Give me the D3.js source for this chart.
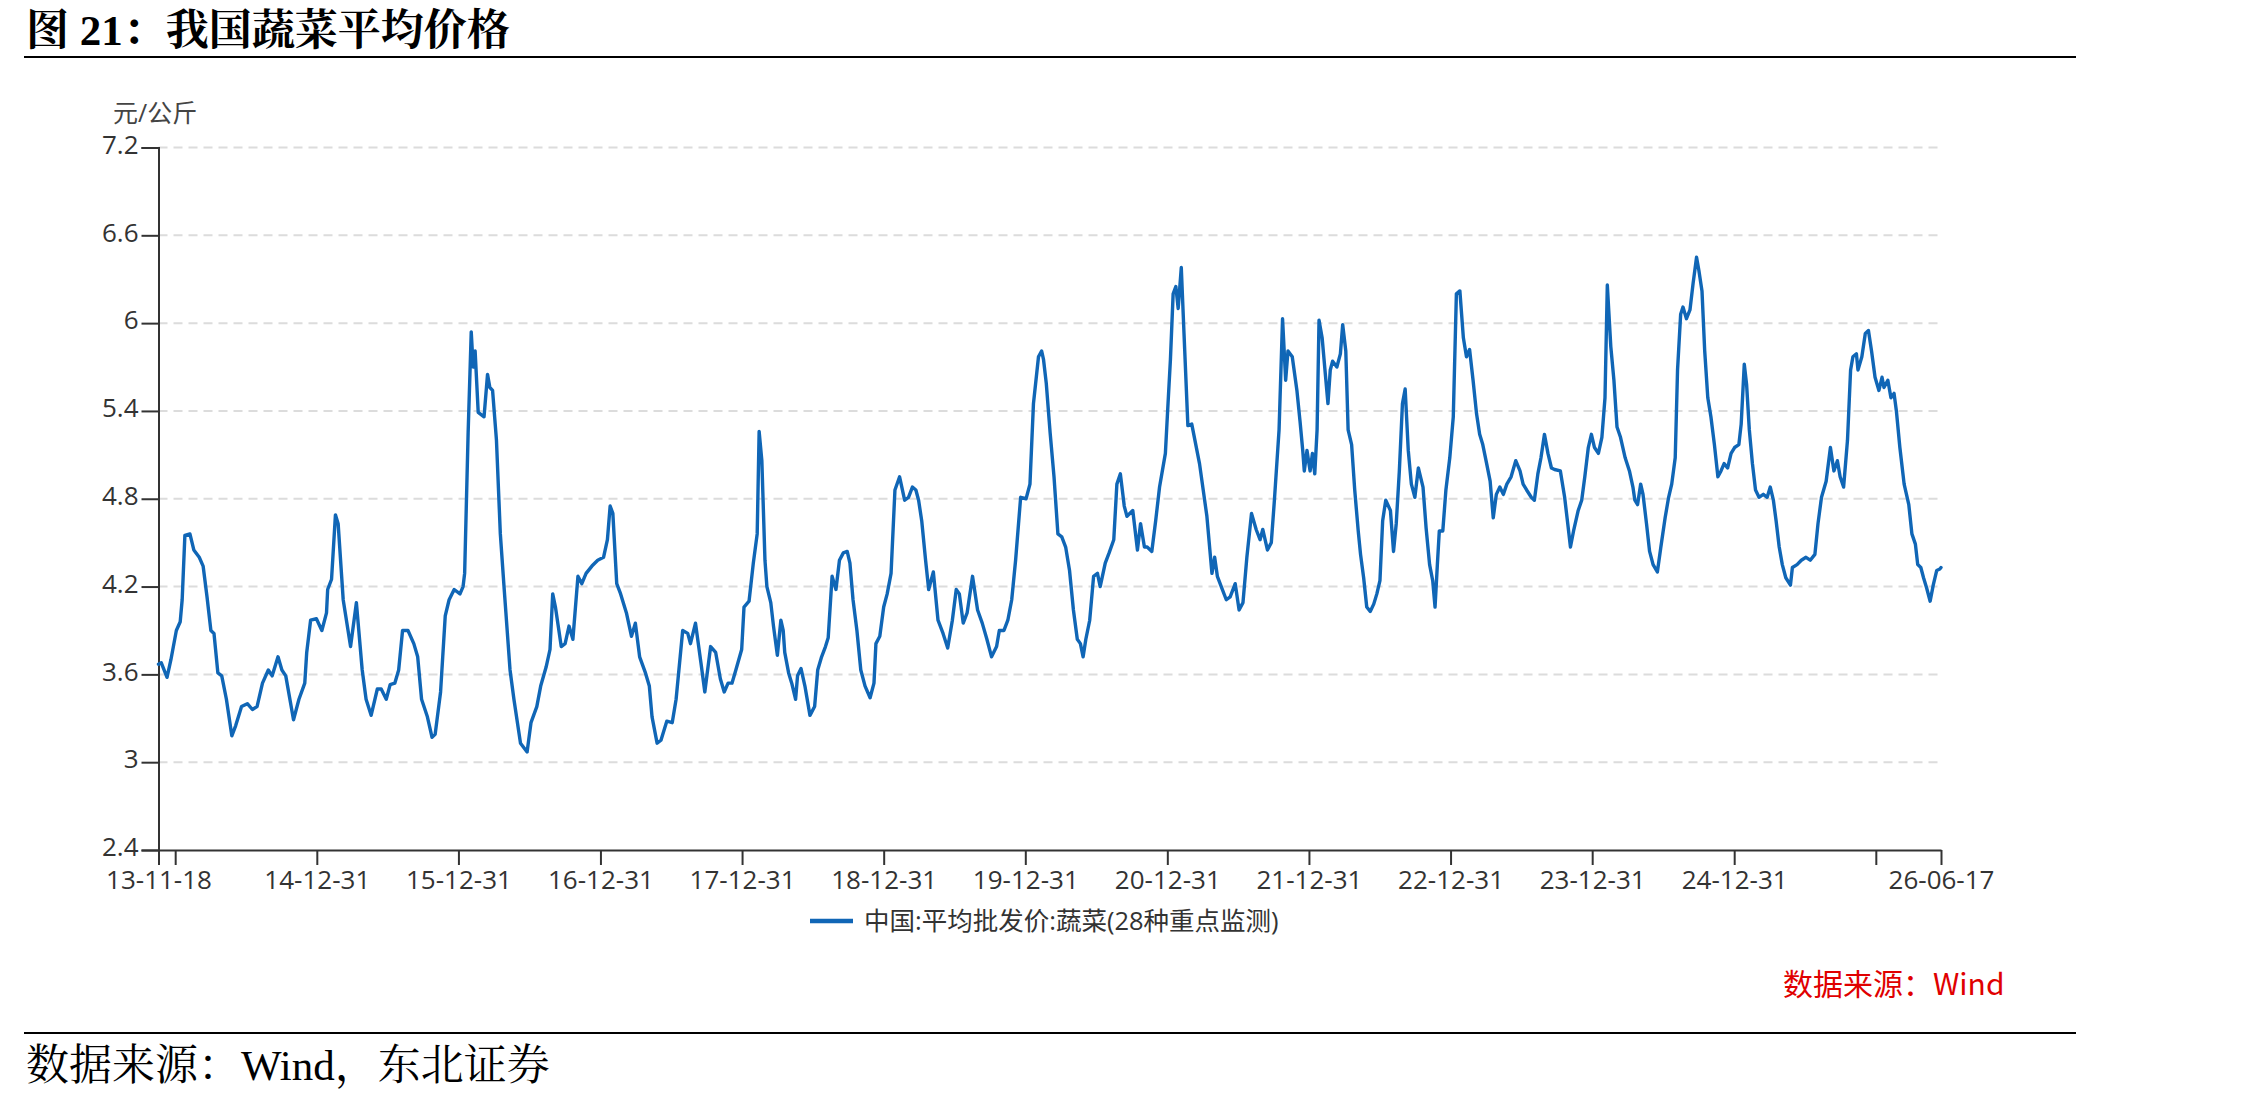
<!DOCTYPE html>
<html>
<head>
<meta charset="utf-8">
<script src="https://cdn.jsdelivr.net/npm/d3@7"></script>
<style>
  html, body { margin: 0; padding: 0; background: #ffffff; }
  svg { display: block; }
</style>
</head>
<body>
<svg id="chart" width="2268" height="1098"></svg>
<script>
// ---------------- DATA ----------------
const seriesName = "中国:平均批发价:蔬菜(28种重点监测)";
const unitLabel = "元/公斤";
const titleText = "图 21：我国蔬菜平均价格";
const footerText = "数据来源：Wind，东北证券";
const sourceText = "数据来源：Wind";

const dates = [
"2013-11-18","2013-11-25","2013-12-10","2013-12-20","2014-01-03","2014-01-13","2014-01-18","2014-01-25","2014-02-07","2014-02-17",
"2014-03-03","2014-03-13","2014-03-23","2014-04-02","2014-04-10","2014-04-20","2014-04-30","2014-05-12","2014-05-26","2014-06-05",
"2014-06-20","2014-07-05","2014-07-18","2014-07-30","2014-08-13","2014-08-28","2014-09-07","2014-09-22","2014-10-02","2014-10-12",
"2014-11-01","2014-11-15","2014-11-30","2014-12-05","2014-12-15","2014-12-30","2015-01-13","2015-01-25","2015-01-28","2015-02-07",
"2015-02-17","2015-02-24","2015-03-09","2015-03-28","2015-04-12","2015-04-27","2015-05-07","2015-05-20","2015-06-05","2015-06-15",
"2015-06-28","2015-07-08","2015-07-20","2015-07-30","2015-08-09","2015-08-23","2015-09-07","2015-09-17","2015-09-27","2015-10-12",
"2015-10-24","2015-11-01","2015-11-15","2015-11-27","2015-12-07","2015-12-20","2016-01-04","2016-01-12","2016-01-16","2016-01-25",
"2016-02-02","2016-02-07","2016-02-12","2016-02-20","2016-03-06","2016-03-15","2016-03-21","2016-03-28","2016-04-07","2016-04-17",
"2016-04-27","2016-05-12","2016-05-22","2016-06-08","2016-06-25","2016-07-05","2016-07-20","2016-07-30","2016-08-13","2016-08-23",
"2016-08-30","2016-09-06","2016-09-21","2016-10-01","2016-10-11","2016-10-21","2016-11-03","2016-11-13","2016-11-24","2016-12-09",
"2016-12-24","2017-01-08","2017-01-18","2017-01-25","2017-02-01","2017-02-11","2017-02-21","2017-03-08","2017-03-21","2017-03-31",
"2017-04-11","2017-04-26","2017-05-06","2017-05-13","2017-05-26","2017-06-05","2017-06-20","2017-07-04","2017-07-14","2017-07-31",
"2017-08-13","2017-08-20","2017-09-02","2017-09-16","2017-09-26","2017-10-11","2017-10-24","2017-11-05","2017-11-15","2017-11-25",
"2017-12-05","2017-12-15","2017-12-30","2018-01-05","2018-01-18","2018-01-29","2018-02-08","2018-02-13","2018-02-20","2018-02-28",
"2018-03-05","2018-03-15","2018-03-22","2018-04-01","2018-04-10","2018-04-16","2018-04-20","2018-04-30","2018-05-08","2018-05-18",
"2018-05-23","2018-06-01","2018-06-11","2018-06-24","2018-07-06","2018-07-14","2018-07-24","2018-08-03","2018-08-10","2018-08-20",
"2018-08-30","2018-09-08","2018-09-18","2018-09-28","2018-10-05","2018-10-13","2018-10-23","2018-11-02","2018-11-13","2018-11-26",
"2018-12-06","2018-12-11","2018-12-21","2018-12-31","2019-01-09","2019-01-19","2019-01-29","2019-02-10","2019-02-23","2019-03-05",
"2019-03-15","2019-03-24","2019-03-31","2019-04-08","2019-04-18","2019-04-26","2019-05-08","2019-05-20","2019-06-02","2019-06-14",
"2019-06-26","2019-07-06","2019-07-14","2019-07-24","2019-08-03","2019-08-17","2019-08-30","2019-09-11","2019-09-23","2019-10-05",
"2019-10-18","2019-10-25","2019-11-06","2019-11-16","2019-11-26","2019-12-06","2019-12-19","2020-01-02","2020-01-12","2020-01-21",
"2020-02-03","2020-02-11","2020-02-16","2020-02-23","2020-03-04","2020-03-14","2020-03-24","2020-04-03","2020-04-13","2020-04-23",
"2020-05-03","2020-05-13","2020-05-21","2020-05-28","2020-06-04","2020-06-14","2020-06-24","2020-07-04","2020-07-11","2020-07-24",
"2020-08-03","2020-08-15","2020-08-23","2020-09-01","2020-09-11","2020-09-18","2020-10-03","2020-10-15","2020-10-23","2020-11-02",
"2020-11-09","2020-11-21","2020-12-01","2020-12-11","2020-12-26","2021-01-01","2021-01-08","2021-01-15","2021-01-22","2021-01-28",
"2021-02-05","2021-02-12","2021-02-22","2021-03-04","2021-03-24","2021-04-12","2021-04-25","2021-05-02","2021-05-09","2021-05-19",
"2021-06-01","2021-06-11","2021-06-24","2021-07-04","2021-07-14","2021-07-24","2021-08-05","2021-08-17","2021-08-27","2021-09-03",
"2021-09-15","2021-09-25","2021-10-03","2021-10-15","2021-10-24","2021-11-01","2021-11-07","2021-11-18","2021-11-30","2021-12-08",
"2021-12-15","2021-12-19","2021-12-26","2022-01-03","2022-01-09","2022-01-15","2022-01-21","2022-01-26","2022-02-03","2022-02-12",
"2022-02-18","2022-02-24","2022-03-02","2022-03-13","2022-03-22","2022-03-28","2022-04-05","2022-04-11","2022-04-20","2022-04-28",
"2022-05-07","2022-05-13","2022-05-21","2022-05-29","2022-06-07","2022-06-16","2022-06-24","2022-07-02","2022-07-09","2022-07-17",
"2022-07-29","2022-08-06","2022-08-13","2022-08-21","2022-08-29","2022-09-05","2022-09-13","2022-09-21","2022-09-30","2022-10-09",
"2022-10-21","2022-10-29","2022-11-07","2022-11-15","2022-11-21","2022-11-27","2022-12-02","2022-12-11","2022-12-19","2022-12-29",
"2023-01-07","2023-01-15","2023-01-24","2023-02-02","2023-02-10","2023-02-18","2023-02-27","2023-03-08","2023-03-16","2023-03-24",
"2023-04-03","2023-04-12","2023-04-20","2023-04-28","2023-05-07","2023-05-16","2023-05-25","2023-06-05","2023-06-17","2023-06-28",
"2023-07-06","2023-07-15","2023-07-27","2023-08-04","2023-08-13","2023-08-21","2023-08-30","2023-09-08","2023-09-17","2023-09-25",
"2023-10-10","2023-10-21","2023-10-29","2023-11-05","2023-11-13","2023-11-25","2023-12-04","2023-12-12","2023-12-21","2023-12-29",
"2024-01-06","2024-01-16","2024-01-25","2024-02-02","2024-02-08","2024-02-17","2024-02-25","2024-03-04","2024-03-13","2024-03-25",
"2024-04-05","2024-04-14","2024-04-19","2024-04-26","2024-05-04","2024-05-10","2024-05-19","2024-05-27","2024-06-05","2024-06-16",
"2024-06-25","2024-07-06","2024-07-15","2024-07-23","2024-08-01","2024-08-07","2024-08-15","2024-08-21","2024-08-30","2024-09-08",
"2024-09-16","2024-09-25","2024-10-01","2024-10-09","2024-10-16","2024-10-24","2024-11-01","2024-11-10","2024-11-19","2024-11-27",
"2024-12-05","2024-12-14","2024-12-23","2025-01-01","2025-01-12","2025-01-18","2025-01-26","2025-02-01","2025-02-08","2025-02-16",
"2025-02-24","2025-03-05","2025-03-16","2025-03-26","2025-04-03","2025-04-11","2025-04-18","2025-04-26","2025-05-04","2025-05-13",
"2025-05-25","2025-05-30","2025-06-11","2025-06-22","2025-07-04","2025-07-15","2025-07-27","2025-08-04","2025-08-13","2025-08-25",
"2025-09-05","2025-09-14","2025-09-23","2025-09-30","2025-10-09","2025-10-19","2025-10-27","2025-11-02","2025-11-11","2025-11-15",
"2025-11-25","2025-12-04","2025-12-12","2025-12-20","2025-12-29","2026-01-08","2026-01-16","2026-01-21","2026-01-31","2026-02-08",
"2026-02-16","2026-02-22","2026-03-03","2026-03-14","2026-03-26","2026-04-03","2026-04-12","2026-04-18","2026-04-26","2026-05-03",
"2026-05-11","2026-05-20","2026-05-28","2026-06-06","2026-06-14","2026-06-17"
];

const values = [
3.67,3.68,3.58,3.70,3.90,3.96,4.11,4.55,4.56,4.45,
4.40,4.34,4.13,3.90,3.88,3.61,3.59,3.43,3.18,3.25,
3.38,3.40,3.36,3.38,3.54,3.63,3.59,3.72,3.63,3.59,
3.29,3.43,3.54,3.75,3.97,3.98,3.90,4.02,4.18,4.25,
4.69,4.63,4.11,3.79,4.09,3.63,3.43,3.32,3.50,3.50,
3.43,3.53,3.54,3.63,3.90,3.90,3.81,3.72,3.43,3.31,
3.17,3.19,3.48,4.00,4.11,4.18,4.15,4.20,4.29,5.25,
5.94,5.70,5.81,5.39,5.36,5.65,5.56,5.54,5.20,4.56,
4.18,3.63,3.43,3.13,3.07,3.27,3.38,3.52,3.65,3.77,
4.15,4.06,3.79,3.81,3.93,3.84,4.27,4.22,4.29,4.34,
4.38,4.40,4.52,4.75,4.70,4.22,4.15,4.02,3.86,3.95,
3.72,3.61,3.52,3.31,3.13,3.15,3.28,3.27,3.43,3.90,
3.88,3.81,3.95,3.68,3.48,3.79,3.75,3.57,3.48,3.54,
3.54,3.63,3.77,4.06,4.10,4.36,4.56,5.26,5.06,4.38,
4.20,4.09,3.93,3.73,3.97,3.90,3.75,3.61,3.54,3.43,
3.59,3.64,3.52,3.32,3.38,3.63,3.72,3.79,3.85,4.27,
4.18,4.38,4.43,4.44,4.36,4.11,3.90,3.63,3.52,3.44,
3.54,3.81,3.86,4.06,4.15,4.29,4.86,4.95,4.79,4.81,
4.88,4.86,4.79,4.65,4.38,4.18,4.30,3.97,3.88,3.78,
3.97,4.18,4.15,3.95,4.02,4.27,4.04,3.95,3.84,3.72,
3.79,3.90,3.90,3.97,4.11,4.38,4.81,4.80,4.90,5.45,
5.77,5.81,5.75,5.59,5.25,4.95,4.56,4.54,4.47,4.31,
4.04,3.84,3.81,3.72,3.84,3.97,4.27,4.29,4.20,4.36,
4.43,4.52,4.90,4.97,4.75,4.68,4.72,4.45,4.63,4.47,
4.47,4.44,4.65,4.88,5.11,5.41,5.75,6.20,6.25,6.10,
6.38,5.93,5.30,5.31,5.04,4.68,4.29,4.40,4.27,4.20,
4.11,4.13,4.22,4.04,4.09,4.40,4.70,4.59,4.52,4.59,
4.45,4.50,4.79,5.27,6.03,5.61,5.81,5.77,5.54,5.33,
5.13,4.99,5.13,4.99,5.11,4.97,5.27,6.02,5.90,5.63,
5.45,5.68,5.74,5.70,5.79,5.99,5.81,5.27,5.17,4.86,
4.58,4.42,4.26,4.06,4.03,4.08,4.15,4.24,4.65,4.79,
4.72,4.44,4.63,4.99,5.45,5.55,5.13,4.90,4.81,5.01,
4.88,4.60,4.35,4.24,4.06,4.35,4.58,4.58,4.86,5.08,
5.36,6.20,6.22,5.90,5.77,5.82,5.61,5.38,5.24,5.17,
5.04,4.92,4.67,4.83,4.88,4.83,4.90,4.95,5.06,4.99,
4.90,4.86,4.81,4.79,4.97,5.08,5.24,5.11,5.01,5.00,
4.99,4.81,4.63,4.47,4.58,4.72,4.79,4.95,5.15,5.24,
5.15,5.11,5.22,5.49,6.26,5.84,5.61,5.29,5.22,5.08,
4.99,4.88,4.79,4.76,4.90,4.83,4.63,4.44,4.35,4.30,
4.47,4.67,4.81,4.90,5.08,5.68,6.06,6.11,6.03,6.09,
6.27,6.45,6.36,6.22,5.81,5.49,5.36,5.17,4.95,4.99,
5.04,5.01,5.11,5.15,5.17,5.31,5.72,5.58,5.27,5.04,
4.86,4.81,4.83,4.81,4.88,4.79,4.65,4.47,4.35,4.26,
4.21,4.33,4.35,4.38,4.40,4.38,4.42,4.63,4.81,4.92,
5.15,4.99,5.06,4.95,4.88,5.20,5.68,5.77,5.79,5.68,
5.77,5.93,5.95,5.81,5.63,5.54,5.63,5.56,5.61,5.49,
5.52,5.40,5.15,4.90,4.76,4.56,4.49,4.35,4.33,4.26,
4.19,4.10,4.21,4.31,4.32,4.33
];

const yTickValues = [2.4, 3, 3.6, 4.2, 4.8, 5.4, 6, 6.6, 7.2];
const xDomain = ["2013-11-18", "2026-06-17"];
const xTickDates = ["2013-11-18","2013-12-31","2014-12-31","2015-12-31","2016-12-31","2017-12-31","2018-12-31",
                    "2019-12-31","2020-12-31","2021-12-31","2022-12-31","2023-12-31","2024-12-31","2025-12-31","2026-06-17"];
const xTickLabels = ["13-11-18","","14-12-31","15-12-31","16-12-31","17-12-31","18-12-31",
                     "19-12-31","20-12-31","21-12-31","22-12-31","23-12-31","24-12-31","","26-06-17"];

// ---------------- DRAW ----------------
const parse = d3.timeParse("%Y-%m-%d");
const data = dates.map((d, i) => ({ date: parse(d), value: values[i] }));

const svg = d3.select("#chart");
svg.append("rect").attr("width", 2268).attr("height", 1098).attr("fill", "#fff");

const plot = { left: 158.5, right: 1941, top: 147.5, bottom: 850 };

const x = d3.scaleTime().domain(xDomain.map(parse)).range([plot.left, plot.right]);
const y = d3.scaleLinear().domain([2.4, 7.2]).range([plot.bottom, plot.top]);

const sansFont = "'Open Sans','Noto Sans CJK SC',sans-serif";
const serifFont = "'Liberation Serif','Noto Serif CJK SC','Noto Sans CJK SC',serif";

// Title
svg.append("text").attr("x", 26).attr("y", 45)
  .attr("font-family", serifFont).attr("font-weight", "bold").attr("font-size", 43)
  .attr("fill", "#000").text(titleText);
svg.append("line").attr("x1", 24).attr("x2", 2076).attr("y1", 57).attr("y2", 57)
  .attr("stroke", "#000").attr("stroke-width", 2.2);

// Gridlines
svg.append("g").selectAll("line").data(yTickValues.filter(v => v > 2.4)).join("line")
  .attr("x1", plot.left).attr("x2", plot.right)
  .attr("y1", d => y(d)).attr("y2", d => y(d))
  .attr("stroke", "#dcdcdc").attr("stroke-width", 2).attr("stroke-dasharray", "9,6");

// Y axis
const yAxis = svg.append("g").attr("transform", `translate(${plot.left},0)`)
  .call(d3.axisLeft(y).tickValues(yTickValues).tickSize(17).tickPadding(3)
    .tickFormat(d => d3.format("~g")(d)));
yAxis.select(".domain").attr("stroke", "#333").attr("stroke-width", 2);
yAxis.selectAll(".tick line").attr("stroke", "#333").attr("stroke-width", 2);
yAxis.selectAll(".tick text").attr("font-family", sansFont).attr("font-size", 26)
  .attr("fill", "#333").attr("dy", "0.22em");

// X axis
const xAxis = svg.append("g").attr("transform", `translate(0,${plot.bottom})`)
  .call(d3.axisBottom(x).tickValues(xTickDates.map(parse)).tickSize(15).tickPadding(6)
    .tickSizeOuter(0)
    .tickFormat((d, i) => xTickLabels[i]));
xAxis.select(".domain").attr("stroke", "#333").attr("stroke-width", 2);
xAxis.selectAll(".tick line").attr("stroke", "#333").attr("stroke-width", 2);
xAxis.selectAll(".tick text").attr("font-family", sansFont).attr("font-size", 26).attr("fill", "#333");

// Unit label
svg.append("text").attr("x", 113).attr("y", 122)
  .attr("font-family", sansFont).attr("font-size", 25).attr("fill", "#444").text(unitLabel);

// Series line
const line = d3.line().x(d => x(d.date)).y(d => y(d.value));
svg.append("path").datum(data).attr("d", line)
  .attr("fill", "none").attr("stroke", "#1066b6").attr("stroke-width", 3.4)
  .attr("stroke-linejoin", "round").attr("stroke-linecap", "round");

// Legend
svg.append("line").attr("x1", 810).attr("x2", 853).attr("y1", 921).attr("y2", 921)
  .attr("stroke", "#1066b6").attr("stroke-width", 4.5);
svg.append("text").attr("x", 864).attr("y", 930)
  .attr("font-family", sansFont).attr("font-size", 25.5).attr("fill", "#333").text(seriesName);

// Red source
svg.append("text").attr("x", 1783).attr("y", 995)
  .attr("font-family", "'Noto Sans CJK SC','Open Sans',sans-serif").attr("font-size", 30)
  .attr("fill", "#e00000").text(sourceText);

// Footer
svg.append("line").attr("x1", 24).attr("x2", 2076).attr("y1", 1033).attr("y2", 1033)
  .attr("stroke", "#000").attr("stroke-width", 2.2);
svg.append("text").attr("x", 26).attr("y", 1080)
  .attr("font-family", serifFont).attr("font-size", 43).attr("fill", "#000").text(footerText);
</script>
</body>
</html>
